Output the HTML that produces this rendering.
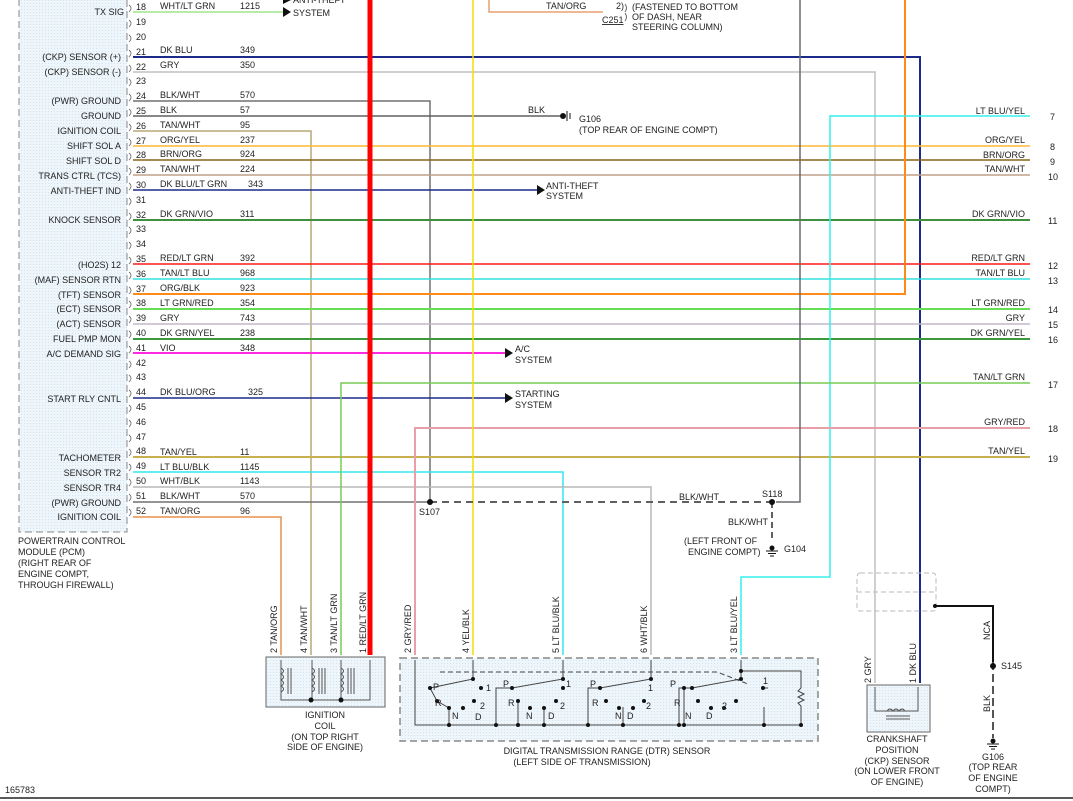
<!DOCTYPE html>
<html><head><meta charset="utf-8"><style>
html,body{margin:0;padding:0;background:#fff}
svg{display:block}
text{font-family:"Liberation Sans",Arial,sans-serif;font-size:9px;fill:#222}
</style></head><body>
<svg width="1073" height="801" viewBox="0 0 1073 801" xmlns="http://www.w3.org/2000/svg">
<defs>
<pattern id="dots" width="3" height="3" patternUnits="userSpaceOnUse"><rect width="3" height="3" fill="#eef6fb"/><rect width="1" height="1" fill="#d2e4ee"/></pattern>
</defs>
<rect x="19" y="-2" width="108" height="534" fill="url(#dots)" stroke="#888" stroke-dasharray="7,4"/>
<g text-anchor="end">
<text x="124" y="15">TX SIG</text>
<text x="121" y="60">(CKP) SENSOR (+)</text>
<text x="121" y="75">(CKP) SENSOR (-)</text>
<text x="121" y="104">(PWR) GROUND</text>
<text x="121" y="119">GROUND</text>
<text x="121" y="134">IGNITION COIL</text>
<text x="121" y="149">SHIFT SOL A</text>
<text x="121" y="164">SHIFT SOL D</text>
<text x="121" y="179">TRANS CTRL (TCS)</text>
<text x="121" y="194">ANTI-THEFT IND</text>
<text x="121" y="223">KNOCK SENSOR</text>
<text x="121" y="268">(HO2S) 12</text>
<text x="121" y="283">(MAF) SENSOR RTN</text>
<text x="121" y="298">(TFT) SENSOR</text>
<text x="121" y="312">(ECT) SENSOR</text>
<text x="121" y="327">(ACT) SENSOR</text>
<text x="121" y="342">FUEL PMP MON</text>
<text x="121" y="357">A/C DEMAND SIG</text>
<text x="121" y="402">START RLY CNTL</text>
<text x="121" y="461">TACHOMETER</text>
<text x="121" y="476">SENSOR TR2</text>
<text x="121" y="491">SENSOR TR4</text>
<text x="121" y="506">(PWR) GROUND</text>
<text x="121" y="520">IGNITION COIL</text>
</g>
<text x="18" y="544">POWERTRAIN CONTROL</text>
<text x="18" y="555">MODULE (PCM)</text>
<text x="18" y="566">(RIGHT REAR OF</text>
<text x="18" y="577">ENGINE COMPT,</text>
<text x="18" y="588">THROUGH FIREWALL)</text>
<g>
<text x="136" y="10">18</text><text x="136" y="25">19</text><text x="136" y="40">20</text><text x="136" y="55">21</text><text x="136" y="70">22</text><text x="136" y="84">23</text><text x="136" y="99">24</text><text x="136" y="114">25</text><text x="136" y="129">26</text><text x="136" y="144">27</text><text x="136" y="158">28</text><text x="136" y="173">29</text><text x="136" y="188">30</text><text x="136" y="203">31</text><text x="136" y="218">32</text><text x="136" y="232">33</text><text x="136" y="247">34</text><text x="136" y="262">35</text><text x="136" y="277">36</text><text x="136" y="292">37</text><text x="136" y="306">38</text><text x="136" y="321">39</text><text x="136" y="336">40</text><text x="136" y="351">41</text><text x="136" y="366">42</text><text x="136" y="380">43</text><text x="136" y="395">44</text><text x="136" y="410">45</text><text x="136" y="425">46</text><text x="136" y="440">47</text><text x="136" y="454">48</text><text x="136" y="469">49</text><text x="136" y="484">50</text><text x="136" y="499">51</text><text x="136" y="514">52</text>
</g>
<g fill="none" stroke="#666" stroke-width="0.8">
<path d="M129,5 q4,3 0,7 M129,20 q4,3 0,7 M129,35 q4,3 0,7 M129,50 q4,3 0,7 M129,65 q4,3 0,7 M129,79 q4,3 0,7 M129,94 q4,3 0,7 M129,109 q4,3 0,7 M129,124 q4,3 0,7 M129,139 q4,3 0,7 M129,153 q4,3 0,7 M129,168 q4,3 0,7 M129,183 q4,3 0,7 M129,198 q4,3 0,7 M129,213 q4,3 0,7 M129,227 q4,3 0,7 M129,242 q4,3 0,7 M129,257 q4,3 0,7 M129,272 q4,3 0,7 M129,287 q4,3 0,7 M129,301 q4,3 0,7 M129,316 q4,3 0,7 M129,331 q4,3 0,7 M129,346 q4,3 0,7 M129,361 q4,3 0,7 M129,375 q4,3 0,7 M129,390 q4,3 0,7 M129,405 q4,3 0,7 M129,420 q4,3 0,7 M129,435 q4,3 0,7 M129,449 q4,3 0,7 M129,464 q4,3 0,7 M129,479 q4,3 0,7 M129,494 q4,3 0,7 M129,509 q4,3 0,7"/>
</g>
<g>
<text x="160" y="9">WHT/LT GRN</text><text x="240" y="9">1215</text>
<text x="160" y="53">DK BLU</text><text x="240" y="53">349</text>
<text x="160" y="68">GRY</text><text x="240" y="68">350</text>
<text x="160" y="98">BLK/WHT</text><text x="240" y="98">570</text>
<text x="160" y="113">BLK</text><text x="240" y="113">57</text>
<text x="160" y="128">TAN/WHT</text><text x="240" y="128">95</text>
<text x="160" y="143">ORG/YEL</text><text x="240" y="143">237</text>
<text x="160" y="157">BRN/ORG</text><text x="240" y="157">924</text>
<text x="160" y="172">TAN/WHT</text><text x="240" y="172">224</text>
<text x="160" y="187">DK BLU/LT GRN</text><text x="248" y="187">343</text>
<text x="160" y="217">DK GRN/VIO</text><text x="240" y="217">311</text>
<text x="160" y="261">RED/LT GRN</text><text x="240" y="261">392</text>
<text x="160" y="276">TAN/LT BLU</text><text x="240" y="276">968</text>
<text x="160" y="291">ORG/BLK</text><text x="240" y="291">923</text>
<text x="160" y="306">LT GRN/RED</text><text x="240" y="306">354</text>
<text x="160" y="321">GRY</text><text x="240" y="321">743</text>
<text x="160" y="336">DK GRN/YEL</text><text x="240" y="336">238</text>
<text x="160" y="351">VIO</text><text x="240" y="351">348</text>
<text x="160" y="395">DK BLU/ORG</text><text x="248" y="395">325</text>
<text x="160" y="455">TAN/YEL</text><text x="240" y="455">11</text>
<text x="160" y="470">LT BLU/BLK</text><text x="240" y="470">1145</text>
<text x="160" y="484">WHT/BLK</text><text x="240" y="484">1143</text>
<text x="160" y="499">BLK/WHT</text><text x="240" y="499">570</text>
<text x="160" y="514">TAN/ORG</text><text x="240" y="514">96</text>
</g>
<g fill="none" stroke-width="1.5">
<path d="M133,12 H283" stroke="#9ee68a"/>
<path d="M133,57 H920 V683" stroke="#1c2a8a" stroke-width="2"/>
<path d="M133,72 H875 V683" stroke="#c0c0c0"/>
<path d="M133,101 H430 V502" stroke="#707070"/>
<path d="M133,116 H560" stroke="#606060"/>
<path d="M133,131 H311 V655" stroke="#b8a878"/>
<path d="M133,146 H1030" stroke="#ffb733"/>
<path d="M133,160 H1030" stroke="#8a6418"/>
<path d="M133,175 H1030" stroke="#c0a088"/>
<path d="M133,190 H537" stroke="#1c2a8a"/>
<path d="M133,220 H1030" stroke="#3f8f3f" stroke-width="2"/>
<path d="M133,264 H1030" stroke="#ff1a1a"/>
<path d="M133,279 H1030" stroke="#33e0e0"/>
<path d="M133,294 H905 V0" stroke="#ff8a1a" stroke-width="2"/>
<path d="M133,309 H1030" stroke="#66dd55" stroke-width="2"/>
<path d="M133,324 H1030" stroke="#c0b8c8"/>
<path d="M133,339 H1030" stroke="#3a9a3a" stroke-width="2"/>
<path d="M133,353 H507" stroke="#ff2adf" stroke-width="2"/>
<path d="M133,398 H507" stroke="#1c2a8a"/>
<path d="M133,457 H1030" stroke="#c8b050" stroke-width="2"/>
<path d="M133,472 H563 V655" stroke="#33e6ee"/>
<path d="M133,487 H651 V655" stroke="#b8b8b8"/>
<path d="M133,502 H430" stroke="#707070"/>
<path d="M133,517 H281 V655" stroke="#e8904a"/>
<path d="M1030,116 H830 V577 H741 V655" stroke="#33f0ee"/>
<path d="M1030,383 H341 V655" stroke="#77cc55"/>
<path d="M1030,428 H415 V655" stroke="#e8a0a8" stroke-width="2"/>
<path d="M473,0 V655" stroke="#f0e000"/>
<path d="M800,0 V502 H776" stroke="#6a6a70"/>
<path d="M489,0 V12 H603" stroke="#e8a070"/>
<path d="M370,0 V655" stroke="#ff0000" stroke-width="5"/>
<path d="M430,502 H772" stroke="#606060" stroke-width="2" stroke-dasharray="7,5"/>
<path d="M772,502 V542" stroke="#606060" stroke-width="2" stroke-dasharray="6,4"/>
<path d="M935,606 H993 V662" stroke="#111" stroke-width="2"/>
<path d="M993,662 V738" stroke="#555" stroke-width="2" stroke-dasharray="8,4"/>
</g>
<g fill="#111">
<polygon points="283,7 291,12 283,17"/>
<polygon points="537,185 545,190 537,195"/>
<polygon points="505,348 513,353 505,358"/>
<polygon points="505,393 513,398 505,403"/>
<polygon points="283,-5 291,0 283,4"/>
</g>
<text x="293" y="16">SYSTEM</text>
<text x="293" y="3">ANTI-THEFT</text>
<text x="546" y="189">ANTI-THEFT</text><text x="546" y="199">SYSTEM</text>
<text x="515" y="352">A/C</text><text x="515" y="363">SYSTEM</text>
<text x="515" y="397">STARTING</text><text x="515" y="408">SYSTEM</text>
<circle cx="563" cy="116" r="3" fill="#111"/>
<path d="M567,111 V121 M570,113 V119" stroke="#111" stroke-width="1"/>
<text x="528" y="113">BLK</text>
<text x="579" y="122">G106</text>
<text x="579" y="133">(TOP REAR OF ENGINE COMPT)</text>
<text x="546" y="9">TAN/ORG</text>
<text x="616" y="9">2)</text>
<text x="602" y="23" text-decoration="underline">C251</text>
<path d="M625,4 q3,4 0,8 M625,13 q3,4 0,8" stroke="#666" fill="none"/>
<text x="632" y="10">(FASTENED TO BOTTOM</text>
<text x="632" y="20">OF DASH, NEAR</text>
<text x="632" y="30">STEERING COLUMN)</text>
<circle cx="430" cy="502" r="3" fill="#111"/>
<text x="419" y="515">S107</text>
<circle cx="772" cy="502" r="3" fill="#111"/>
<text x="762" y="497">S118</text>
<text x="679" y="500">BLK/WHT</text>
<text x="728" y="525">BLK/WHT</text>
<text x="684" y="544">(LEFT FRONT OF</text>
<text x="688" y="555">ENGINE COMPT)</text>
<circle cx="772" cy="548" r="2.5" fill="#111"/>
<path d="M766,551 H778 M768,553.5 H776 M770,556 H774" stroke="#111"/>
<text x="784" y="552">G104</text>
<g text-anchor="end">
<text x="1025" y="114">LT BLU/YEL</text>
<text x="1025" y="143">ORG/YEL</text>
<text x="1025" y="158">BRN/ORG</text>
<text x="1025" y="172">TAN/WHT</text>
<text x="1025" y="217">DK GRN/VIO</text>
<text x="1025" y="261">RED/LT GRN</text>
<text x="1025" y="276">TAN/LT BLU</text>
<text x="1025" y="306">LT GRN/RED</text>
<text x="1025" y="321">GRY</text>
<text x="1025" y="336">DK GRN/YEL</text>
<text x="1025" y="380">TAN/LT GRN</text>
<text x="1025" y="425">GRY/RED</text>
<text x="1025" y="454">TAN/YEL</text>
</g>
<g>
<text x="1050" y="120">7</text><text x="1050" y="150">8</text><text x="1050" y="165">9</text><text x="1048" y="180">10</text><text x="1048" y="224">11</text><text x="1048" y="269">12</text><text x="1048" y="284">13</text><text x="1048" y="313">14</text><text x="1048" y="328">15</text><text x="1048" y="343">16</text><text x="1048" y="388">17</text><text x="1048" y="432">18</text><text x="1048" y="462">19</text>
</g>
<g>
<text transform="translate(277,653) rotate(-90)">2  TAN/ORG</text>
<text transform="translate(307,653) rotate(-90)">4  TAN/WHT</text>
<text transform="translate(337,653) rotate(-90)">3  TAN/LT GRN</text>
<text transform="translate(366,653) rotate(-90)">1  RED/LT GRN</text>
<text transform="translate(411,653) rotate(-90)">2  GRY/RED</text>
<text transform="translate(469,653) rotate(-90)">4  YEL/BLK</text>
<text transform="translate(559,653) rotate(-90)">5  LT BLU/BLK</text>
<text transform="translate(647,653) rotate(-90)">6  WHT/BLK</text>
<text transform="translate(737,653) rotate(-90)">3  LT BLU/YEL</text>
<text transform="translate(871,683) rotate(-90)">2  GRY</text>
<text transform="translate(916,683) rotate(-90)">1  DK BLU</text>
<text transform="translate(990,640) rotate(-90)">NCA</text>
<text transform="translate(990,712) rotate(-90)">BLK</text>
</g>
<rect x="266" y="657" width="119" height="50" fill="url(#dots)" stroke="#666"/>
<path d="M281,660 V700 H370 V660 M312,660 V700 M341,660 V700" fill="none" stroke="#555"/>
<g fill="none" stroke="#555">
<path d="M281,668 q5,3 0,6 q5,3 0,6 q5,3 0,6 q5,3 0,6 M288,668 V694 M291,668 V694"/>
<path d="M312,668 q5,3 0,6 q5,3 0,6 q5,3 0,6 q5,3 0,6 M319,668 V694 M322,668 V694 M325,668 V694"/>
<path d="M341,668 q5,3 0,6 q5,3 0,6 q5,3 0,6 q5,3 0,6 M348,668 V694 M351,668 V694 M354,668 V694"/>
</g>
<circle cx="311" cy="700" r="2.5" fill="#111"/><circle cx="341" cy="700" r="2.5" fill="#111"/>
<text x="325" y="718" text-anchor="middle">IGNITION</text>
<text x="325" y="729" text-anchor="middle">COIL</text>
<text x="325" y="740" text-anchor="middle">(ON TOP RIGHT</text>
<text x="325" y="750" text-anchor="middle">SIDE OF ENGINE)</text>
<rect x="400" y="658" width="418" height="83" fill="url(#dots)" stroke="#888" stroke-dasharray="7,4" stroke-width="1.5"/>
<g fill="none" stroke="#444">
<path d="M415,660 V725 H801 V706 M801,688 V671 H741 V660"/>
<path d="M473,660 V679 L430,688 L437,701 L449,708 V725"/>
<path d="M563,660 V679 L512,688 H496 V725 M518,701 V725 M544,707 V725"/>
<path d="M651,660 V679 L600,688 H588 V725 M623,707 V725 M684,687 V725"/>
<path d="M741,660 V679 L692,688 H679 V725 M764,707 V725 M768,688 H763"/>
<path d="M440,672 H717 L748,684" stroke-dasharray="5,3"/>
<path d="M801,688 l-3,3 l6,3 l-6,3 l6,3 l-6,3 l3,3"/>
</g>
<g fill="#111">
<circle cx="473" cy="679" r="2"/><circle cx="430" cy="688" r="2"/><circle cx="437" cy="701" r="2"/><circle cx="449" cy="708" r="2"/><circle cx="463" cy="708" r="2"/><circle cx="481" cy="688" r="2"/><circle cx="474" cy="701" r="2"/>
<circle cx="563" cy="679" r="2"/><circle cx="512" cy="688" r="2"/><circle cx="518" cy="701" r="2"/><circle cx="530" cy="708" r="2"/><circle cx="544" cy="708" r="2"/><circle cx="563" cy="688" r="2"/><circle cx="556" cy="701" r="2"/>
<circle cx="651" cy="679" r="2"/><circle cx="600" cy="688" r="2"/><circle cx="606" cy="701" r="2"/><circle cx="619" cy="708" r="2"/><circle cx="633" cy="708" r="2"/><circle cx="684" cy="688" r="2"/><circle cx="644" cy="701" r="2"/>
<circle cx="741" cy="679" r="2"/><circle cx="692" cy="688" r="2"/><circle cx="698" cy="701" r="2"/><circle cx="711" cy="708" r="2"/><circle cx="724" cy="708" r="2"/><circle cx="763" cy="688" r="2"/><circle cx="736" cy="701" r="2"/>
<circle cx="449" cy="725" r="2"/><circle cx="496" cy="725" r="2"/><circle cx="518" cy="725" r="2"/><circle cx="544" cy="725" r="2"/><circle cx="588" cy="725" r="2"/><circle cx="623" cy="725" r="2"/><circle cx="684" cy="725" r="2"/><circle cx="679" cy="725" r="2"/><circle cx="764" cy="725" r="2"/><circle cx="801" cy="725" r="2"/><circle cx="741" cy="671" r="2"/>
</g>
<g font-size="8">
<text x="433" y="690">P</text><text x="435" y="706">R</text><text x="452" y="719">N</text><text x="475" y="720">D</text><text x="486" y="691">1</text><text x="480" y="709">2</text>
<text x="503" y="687">P</text><text x="508" y="706">R</text><text x="526" y="719">N</text><text x="548" y="719">D</text><text x="566" y="687">1</text><text x="560" y="709">2</text>
<text x="590" y="687">P</text><text x="592" y="706">R</text><text x="615" y="719">N</text><text x="627" y="719">D</text><text x="648" y="691">1</text><text x="646" y="709">2</text>
<text x="670" y="687">P</text><text x="674" y="706">R</text><text x="685" y="719">N</text><text x="706" y="719">D</text><text x="763" y="684">1</text><text x="722" y="709">2</text>
</g>
<text x="607" y="754" text-anchor="middle">DIGITAL TRANSMISSION RANGE (DTR) SENSOR</text>
<text x="582" y="765" text-anchor="middle">(LEFT SIDE OF TRANSMISSION)</text>
<rect x="867" y="685" width="63" height="47" fill="url(#dots)" stroke="#666"/>
<path d="M875,687 V711 H918 V687" fill="none" stroke="#555"/>
<path d="M887,711 q3,-4 6,0 q3,-4 6,0 q3,-4 6,0 M886,716 H910 M886,719 H910" fill="none" stroke="#555"/>
<g text-anchor="middle">
<text x="897" y="742">CRANKSHAFT</text>
<text x="897" y="753">POSITION</text>
<text x="897" y="764">(CKP) SENSOR</text>
<text x="897" y="774">(ON LOWER FRONT</text>
<text x="897" y="785">OF ENGINE)</text>
</g>
<path d="M860,573 H933 Q936,573 936,578 V608 Q936,611 933,611 H860 Q857,611 857,608 V578 Q857,573 860,573 Z M857,592 H936" fill="none" stroke="#bbb" stroke-dasharray="5,3"/>
<circle cx="935" cy="606" r="2" fill="#111"/>
<circle cx="993" cy="666" r="3" fill="#111"/>
<text x="1001" y="669">S145</text>
<circle cx="993" cy="741" r="2.5" fill="#111"/>
<path d="M987,744 H999 M989,746.5 H997 M991,749 H995" stroke="#111"/>
<g text-anchor="middle">
<text x="993" y="760">G106</text>
<text x="993" y="770">(TOP REAR</text>
<text x="993" y="781">OF ENGINE</text>
<text x="993" y="792">COMPT)</text>
</g>
<text x="5" y="793">165783</text>
<path d="M0,798 H1073" stroke="#222" stroke-width="1.5"/>
</svg>
</body></html>
